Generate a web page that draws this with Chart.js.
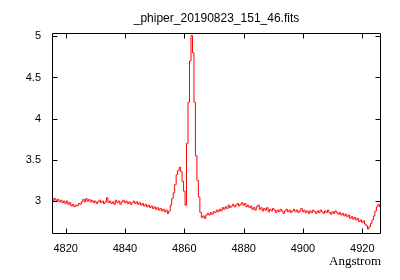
<!DOCTYPE html>
<html>
<head>
<meta charset="utf-8">
<script src="https://cdn.jsdelivr.net/npm/chart.js@4/dist/chart.umd.min.js"></script>
<style>
html,body{margin:0;padding:0;background:#fff;}
#c{display:block;}
</style>
</head>
<body>
<canvas id="c" width="400" height="280"></canvas>
<script>
const chartTitle = "_phiper_20190823_151_46.fits";
const xAxisLabel = "Angstrom";
const xTicks = [4820, 4840, 4860, 4880, 4900, 4920];
const yTicks = [3, 3.5, 4, 4.5, 5];

const wavelength = [
4815.5,4816.0,4816.5,4817.0,4817.5,4818.0,4818.5,4819.0,4819.5,4820.0,
4820.5,4821.0,4821.5,4822.0,4822.5,4823.0,4823.5,4824.0,4824.5,4825.0,
4825.5,4826.0,4826.5,4827.0,4827.5,4828.0,4828.5,4829.0,4829.5,4830.0,
4830.5,4831.0,4831.5,4832.0,4832.5,4833.0,4833.5,4834.0,4834.5,4835.0,
4835.5,4836.0,4836.5,4837.0,4837.5,4838.0,4838.5,4839.0,4839.5,4840.0,
4840.5,4841.0,4841.5,4842.0,4842.5,4843.0,4843.5,4844.0,4844.5,4845.0,
4845.5,4846.0,4846.5,4847.0,4847.5,4848.0,4848.5,4849.0,4849.5,4850.0,
4850.5,4851.0,4851.5,4852.0,4852.5,4853.0,4853.5,4854.0,4854.5,4855.0,
4855.5,4856.0,4856.5,4857.0,4857.5,4858.0,4858.5,4859.0,4859.5,4860.0,
4860.5,4861.0,4861.5,4862.0,4862.5,4863.0,4863.5,4864.0,4864.5,4865.0,
4865.5,4866.0,4866.5,4867.0,4867.5,4868.0,4868.5,4869.0,4869.5,4870.0,
4870.5,4871.0,4871.5,4872.0,4872.5,4873.0,4873.5,4874.0,4874.5,4875.0,
4875.5,4876.0,4876.5,4877.0,4877.5,4878.0,4878.5,4879.0,4879.5,4880.0,
4880.5,4881.0,4881.5,4882.0,4882.5,4883.0,4883.5,4884.0,4884.5,4885.0,
4885.5,4886.0,4886.5,4887.0,4887.5,4888.0,4888.5,4889.0,4889.5,4890.0,
4890.5,4891.0,4891.5,4892.0,4892.5,4893.0,4893.5,4894.0,4894.5,4895.0,
4895.5,4896.0,4896.5,4897.0,4897.5,4898.0,4898.5,4899.0,4899.5,4900.0,
4900.5,4901.0,4901.5,4902.0,4902.5,4903.0,4903.5,4904.0,4904.5,4905.0,
4905.5,4906.0,4906.5,4907.0,4907.5,4908.0,4908.5,4909.0,4909.5,4910.0,
4910.5,4911.0,4911.5,4912.0,4912.5,4913.0,4913.5,4914.0,4914.5,4915.0,
4915.5,4916.0,4916.5,4917.0,4917.5,4918.0,4918.5,4919.0,4919.5,4920.0,
4920.5,4921.0,4921.5,4922.0,4922.5,4923.0,4923.5,4924.0,4924.5,4925.0,
4925.5,4926.0,4926.5
];

const flux = [
3.04,3.01,3.03,3.00,3.02,2.99,3.01,2.98,3.00,2.97,
3.00,2.96,2.98,2.94,2.96,2.93,2.95,2.94,2.97,2.96,
2.99,3.02,2.99,3.03,3.00,3.02,2.99,3.01,2.98,3.00,
2.97,2.99,3.01,2.98,3.00,2.97,2.99,3.04,2.98,3.00,
2.97,2.99,2.96,3.01,2.98,3.00,2.96,2.99,3.01,2.98,
3.00,2.97,2.99,2.96,2.98,3.00,2.97,2.99,2.96,2.98,
2.95,2.97,2.94,2.96,2.93,2.95,2.92,2.94,2.91,2.93,
2.90,2.92,2.89,2.91,2.88,2.90,2.87,2.89,2.85,2.88,
2.95,3.03,3.10,3.20,3.32,3.37,3.41,3.36,3.24,3.12,
2.95,3.70,4.20,4.70,5.01,4.80,4.20,3.55,3.25,3.05,
2.86,2.80,2.82,2.79,2.83,2.85,2.83,2.86,2.84,2.87,
2.86,2.89,2.87,2.90,2.88,2.92,2.90,2.93,2.91,2.95,
2.92,2.94,2.96,2.93,2.95,2.97,2.94,2.96,2.98,2.95,
2.97,2.93,2.95,2.92,2.94,2.90,2.92,2.89,2.93,2.95,
2.90,2.92,2.88,2.91,2.89,2.92,2.87,2.90,2.88,2.91,
2.89,2.86,2.89,2.87,2.90,2.88,2.85,2.88,2.90,2.87,
2.89,2.86,2.88,2.90,2.87,2.89,2.86,2.88,2.91,2.87,
2.89,2.86,2.88,2.85,2.88,2.86,2.89,2.87,2.85,2.88,
2.86,2.89,2.87,2.85,2.88,2.86,2.89,2.86,2.84,2.87,
2.85,2.88,2.86,2.84,2.86,2.83,2.85,2.82,2.84,2.81,
2.83,2.79,2.81,2.78,2.80,2.77,2.79,2.75,2.77,2.74,
2.76,2.72,2.70,2.66,2.69,2.73,2.77,2.82,2.88,2.93,
2.96,2.93,2.89
];

const points = wavelength.map((w, i) => ({ x: w, y: flux[i] }));

const framePlugin = {
  id: 'frame',
  afterDraw(chart) {
    const ctx = chart.ctx;
    const a = chart.chartArea;
    const L = Math.round(a.left) + 0.5, R = Math.round(a.right) - 0.5;
    const T = Math.round(a.top) + 0.5, B = Math.round(a.bottom) - 0.5;
    ctx.save();
    ctx.strokeStyle = '#000';
    ctx.lineWidth = 1;
    ctx.beginPath();
    ctx.rect(L, T, R - L, B - T);
    const xs = chart.scales.x, ys = chart.scales.y;
    const tl = 5;
    xTicks.forEach(v => {
      const p = Math.round(xs.getPixelForValue(v)) + 0.5;
      ctx.moveTo(p, B); ctx.lineTo(p, B - tl);
      ctx.moveTo(p, T); ctx.lineTo(p, T + tl);
    });
    yTicks.forEach(v => {
      const p = Math.round(ys.getPixelForValue(v)) + 0.5;
      ctx.moveTo(L, p); ctx.lineTo(L + tl, p);
      ctx.moveTo(R, p); ctx.lineTo(R - tl, p);
    });
    ctx.stroke();
    ctx.restore();
  }
};

new Chart(document.getElementById('c'), {
  type: 'line',
  data: {
    datasets: [{
      data: points,
      borderColor: '#ff0000',
      borderWidth: 1,
      pointRadius: 0,
      fill: false,
      tension: 0,
      stepped: 'middle'
    }]
  },
  options: {
    responsive: false,
    animation: false,
    events: [],
    layout: { padding: { left: 0, right: 19, top: 0, bottom: 0 } },
    plugins: {
      legend: { display: false },
      tooltip: { enabled: false },
      title: {
        display: true,
        text: chartTitle,
        fullSize: false,
        color: '#000',
        font: { family: 'Liberation Sans', size: 12, weight: 'normal' },
        padding: { top: 11.5, bottom: 7.1 }
      }
    },
    scales: {
      x: {
        type: 'linear',
        min: 4815.4,
        max: 4926.3,
        grid: { display: false, drawTicks: false },
        border: { display: false },
        afterBuildTicks: s => { s.ticks = xTicks.map(v => ({ value: v })); },
        afterFit: s => { s.height = 46; },
        ticks: {
          color: '#000',
          padding: 8,
          maxRotation: 0,
          autoSkip: false,
          font: { family: 'Liberation Sans', size: 11 },
          callback: v => String(v)
        },
        title: {
          display: true,
          text: xAxisLabel,
          align: 'end',
          color: '#000',
          font: { family: 'Liberation Serif', size: 13 },
          padding: { top: 0, bottom: 11 }
        }
      },
      y: {
        min: 2.6,
        max: 5.04,
        grid: { display: false, drawTicks: false },
        border: { display: false },
        afterBuildTicks: s => { s.ticks = yTicks.map(v => ({ value: v })); },
        afterFit: s => { s.width = 52; },
        ticks: {
          color: '#000',
          padding: 11,
          font: { family: 'Liberation Sans', size: 11 },
          callback: v => String(v)
        }
      }
    }
  },
  plugins: [framePlugin]
});
</script>
</body>
</html>
